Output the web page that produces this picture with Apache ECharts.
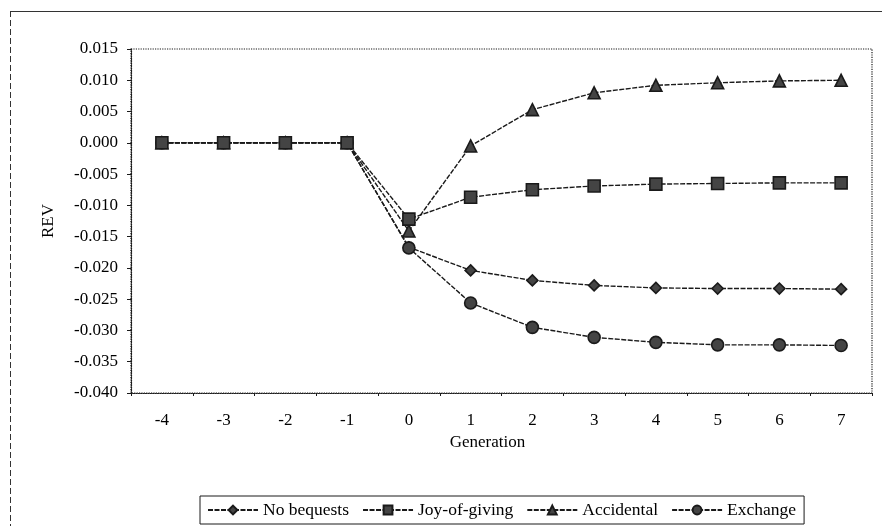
<!DOCTYPE html>
<html>
<head>
<meta charset="utf-8">
<script src="https://cdn.jsdelivr.net/npm/echarts@6/dist/echarts.min.js"></script>
<style>
html,body{margin:0;padding:0;background:#fff;}
#c{width:882px;height:526px;}
</style>
</head>
<body>
<div id="c"></div>
<script>
var categories = ['-4','-3','-2','-1','0','1','2','3','4','5','6','7'];
var noBequests = [0, 0, 0, 0, -0.0167, -0.0204, -0.0220, -0.0228, -0.0232, -0.0233, -0.0233, -0.0234];
var joyOfGiving = [0, 0, 0, 0, -0.0122, -0.0087, -0.0075, -0.0069, -0.0066, -0.0065, -0.0064, -0.0064];
var accidental = [0, 0, 0, 0, -0.0141, -0.0005, 0.0053, 0.0080, 0.0092, 0.0096, 0.0099, 0.0100];
var exchange = [0, 0, 0, 0, -0.0168, -0.0256, -0.0295, -0.0311, -0.0319, -0.0323, -0.0323, -0.0324];
var seriesNames = ['No bequests', 'Joy-of-giving', 'Accidental', 'Exchange'];

var FONT = 'Liberation Serif';
var INK = '#1a1a1a';

function mkSeries(name, data, symbol, size, z) {
  return {
    name: name,
    type: 'line',
    data: data,
    symbol: symbol,
    symbolSize: size,
    z: z,
    lineStyle: { color: INK, width: 1.4, type: [5, 1.5] },
    itemStyle: { color: '#444', borderColor: INK, borderWidth: 1.6 },
    emphasis: { disabled: true },
    animation: false
  };
}

var chart = echarts.init(document.getElementById('c'), null, { renderer: 'canvas' });
chart.setOption({
  backgroundColor: '#fff',
  animation: false,
  textStyle: { fontFamily: FONT, color: '#000' },
  graphic: [
    { type: 'line', shape: { x1: 10, y1: 11.5, x2: 882, y2: 11.5 }, style: { stroke: '#333', lineWidth: 1 } },
    { type: 'line', shape: { x1: 10.5, y1: 11, x2: 10.5, y2: 526 }, style: { stroke: '#333', lineWidth: 1, lineDash: [6, 3] } }
  ],
  grid: {
    left: 131, right: 10, top: 49, bottom: 133,
    show: true, borderColor: INK, borderWidth: 1.2, borderType: 'dotted',
    containLabel: false
  },
  legend: {
    data: seriesNames,
    left: 200, top: 496,
    orient: 'horizontal',
    itemWidth: 50, itemHeight: 11, itemGap: 13,
    padding: [5, 8, 5, 7],
    borderColor: INK, borderWidth: 1,
    textStyle: { fontFamily: FONT, fontSize: 17.5, color: '#000' },
    selectedMode: false
  },
  xAxis: {
    type: 'category',
    data: categories,
    boundaryGap: true,
    name: 'Generation',
    nameLocation: 'middle',
    nameGap: 39,
    nameTextStyle: { fontFamily: FONT, fontSize: 17, color: '#000', padding: [0, 28, 0, 0] },
    axisLine: { onZero: false, lineStyle: { color: INK, width: 1.2, type: 'dotted' } },
    axisTick: { show: true, length: 3, lineStyle: { color: INK } },
    axisLabel: { fontFamily: FONT, fontSize: 17, color: '#000', margin: 19 },
    splitLine: { show: false }
  },
  yAxis: {
    type: 'value',
    min: -0.04, max: 0.015, interval: 0.005,
    name: 'REV',
    nameLocation: 'middle',
    nameGap: 74,
    nameRotate: 90,
    nameTextStyle: { fontFamily: FONT, fontSize: 17, color: '#000' },
    axisLine: { show: true, onZero: false, lineStyle: { color: INK, width: 1.2, type: 'dotted' } },
    axisTick: { show: true, length: 4, lineStyle: { color: INK } },
    axisLabel: {
      fontFamily: FONT, fontSize: 17, color: '#000', margin: 13,
      formatter: function (v) { var s = v.toFixed(3); if (s === '-0.000') s = '0.000'; return s; }
    },
    splitLine: { show: false }
  },
  series: [
    mkSeries(seriesNames[0], noBequests, 'diamond', 11, 2),
    mkSeries(seriesNames[1], joyOfGiving, 'rect', 12, 5),
    mkSeries(seriesNames[2], accidental, 'triangle', 12, 4),
    mkSeries(seriesNames[3], exchange, 'circle', 12, 3)
  ]
});
</script>
</body>
</html>
